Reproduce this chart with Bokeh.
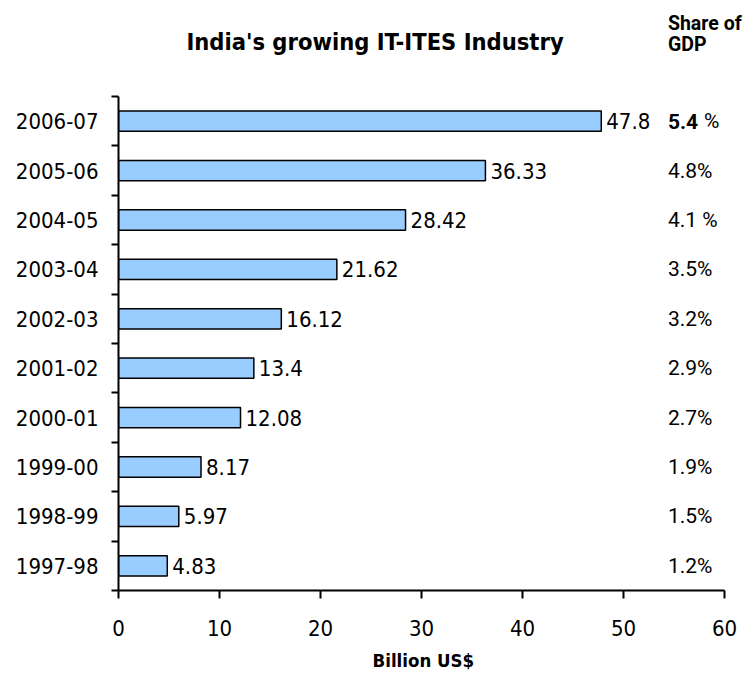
from bokeh.plotting import figure
from bokeh.models import FixedTicker, Range1d, ColumnDataSource, Title
from bokeh.core.properties import value
from bokeh.embed import file_html
from bokeh.resources import INLINE

years = ["1997-98", "1998-99", "1999-00", "2000-01", "2001-02",
         "2002-03", "2003-04", "2004-05", "2005-06", "2006-07"]
revenue = [4.83, 5.97, 8.17, 12.08, 13.4, 16.12, 21.62, 28.42, 36.33, 47.8]
revenue_labels = ["4.83", "5.97", "8.17", "12.08", "13.4",
                  "16.12", "21.62", "28.42", "36.33", "47.8"]
gdp_share = ["1.2%", "1.5%", "1.9%", "2.7%", "2.9%",
             "3.2%", "3.5%", "4.1 %", "4.8%", ""]
gdp_share_latest = "5.4"
x_ticks = [0, 10, 20, 30, 40, 50, 60]
title_text = "India's growing IT-ITES Industry"
share_header = ["Share of", "GDP"]
x_title = "Billion US$"

FONT = "DejaVu Sans Condensed"
PFONT = "Roboto"
n = len(years)
centers = [i + 0.5 for i in range(n)]
unit_px = 49.4          # pixel height of one category band
x_unit_px = 10.1        # pixels per billion
frame_h = 590
frame_w = 632
y_top = frame_h / unit_px
x_right = frame_w / x_unit_px

src = ColumnDataSource(dict(y=centers, rev=revenue, lab=revenue_labels,
                            share=gdp_share, year=years))

p = figure(width=750, height=682, x_range=Range1d(0, x_right), y_range=Range1d(0, y_top),
           output_backend="svg", toolbar_location=None,
           min_border_left=118, min_border_right=0, min_border_top=0,
           min_border_bottom=92)
p.outline_line_color = None
p.grid.visible = False
p.background_fill_color = "white"

p.hbar(y="y", right="rev", left=0, height=0.41, source=src,
       fill_color="#99CCFF", line_color="black", line_width=1.5)

p.text(x="rev", y="y", text="lab", source=src, x_offset=5,
       text_align="left", text_baseline="middle",
       text_font=value(FONT), text_font_size="22px", text_color="black")

share_x = 54.4
p.text(x=share_x, y="y", text="share", source=src,
       text_align="left", text_baseline="middle",
       text_font=value(PFONT), text_font_size="21px", text_color="black")

top = centers[-1]
p.text(x=[share_x], y=[top], text=[gdp_share_latest],
       text_align="left", text_baseline="middle",
       text_font=value(PFONT), text_font_size="21px",
       text_font_style="bold", text_color="black")
p.text(x=[share_x], y=[top], text=["%"], x_offset=36,
       text_align="left", text_baseline="middle",
       text_font=value(PFONT), text_font_size="21px", text_color="black")

# title and column header (placed above the bars inside the extended range)
p.text(x=[25.4], y=[n + 55 / unit_px], text=[title_text],
       text_align="center", text_baseline="middle",
       text_font=value(FONT), text_font_size="23.5px", text_font_style="bold",
       text_color="black")
p.text(x=[share_x, share_x], y=[n + 73 / unit_px, n + 52 / unit_px], text=share_header,
       text_align="left", text_baseline="middle",
       text_font=value(PFONT), text_font_size="19.5px", text_font_style="bold",
       text_color="black")

# y axis
ya = p.yaxis[0]
ya.bounds = (0, n)
ya.ticker = FixedTicker(ticks=centers, minor_ticks=list(range(n + 1)))
ya.major_label_overrides = {c: y for c, y in zip(centers, years)}
ya.major_tick_out = 0
ya.major_tick_in = 0
ya.minor_tick_out = 7
ya.minor_tick_in = 0
ya.minor_tick_line_width = 2
ya.axis_line_width = 2
ya.major_label_standoff = 13
ya.major_label_text_font = FONT
ya.major_label_text_font_size = "22px"
ya.major_label_text_color = "black"

# x axis
xa = p.xaxis[0]
xa.bounds = (0, 60)
xa.ticker = FixedTicker(ticks=x_ticks, minor_ticks=[])
xa.major_tick_out = 8
xa.major_tick_in = 0
xa.major_tick_line_width = 2
xa.axis_line_width = 2
xa.major_label_standoff = 21
xa.major_label_text_font = FONT
xa.major_label_text_font_size = "22px"
xa.major_label_text_color = "black"

# axis title centred under the 0-60 axis
p.add_layout(Title(text=x_title, align="left", offset=254, standoff=19,
                   text_font=FONT, text_font_size="18.5px", text_font_style="bold",
                   text_color="black"), "below")

open("out.html", "w").write(file_html(p, INLINE))
